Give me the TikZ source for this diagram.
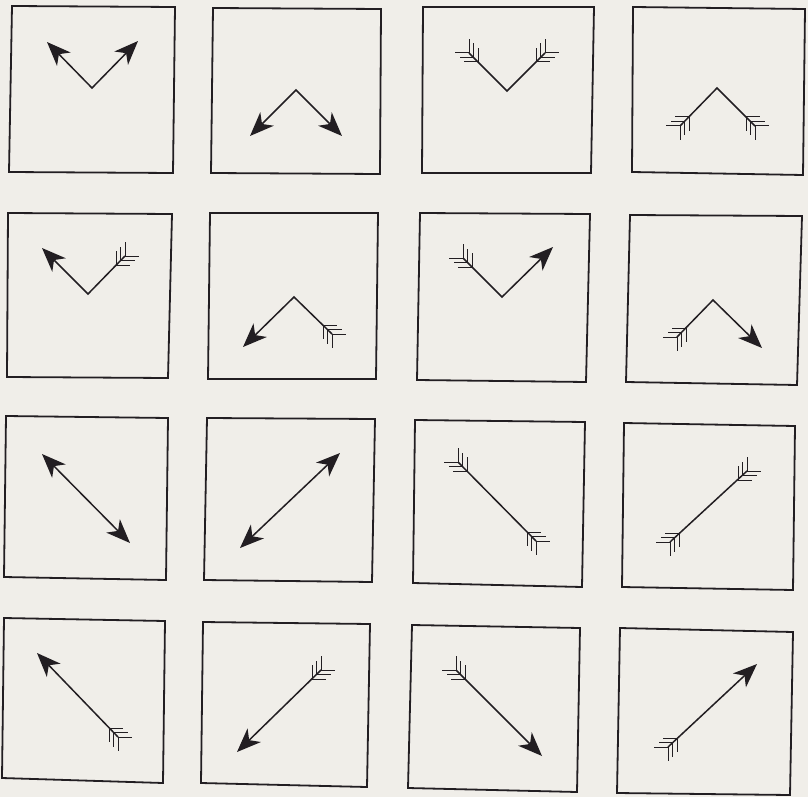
\documentclass[tikz,border=0pt]{standalone}
\usetikzlibrary{arrows.meta,calc}
\definecolor{paper}{RGB}{240,238,233}
\definecolor{ink}{RGB}{34,30,34}
\tikzset{
  panel/.style={draw=ink, line width=1.8pt, line join=miter},
  shaft/.style={draw=ink, line width=1.5pt, line join=miter},
  feather/.style={draw=ink, line width=1.0pt},
  >={Stealth[length=24pt,width=19pt,inset=7pt]},
}
% fletching at a tail end: coordinate name, outward x sign, outward y sign (screen)
\newcommand\fletching[3]{%
  \foreach \k in {0,1,2}{%
    \draw[feather] ($(#1)+({-\k*4.5*(#2)},{-\k*4.5*(#3)})$) -- ++({14*(#2)},0);
    \draw[feather] ($(#1)+({-\k*4.5*(#2)},{-\k*4.5*(#3)})$) -- ++(0,{14*(#3)});
  }}
\newcommand\panelbox[8]{\draw[panel] (#1,#2) -- (#3,#4) -- (#5,#6) -- (#7,#8) -- cycle;}
\begin{document}
\begin{tikzpicture}[x=1pt,y=-1pt]
\fill[paper] (0,0) rectangle (808,797);
\useasboundingbox (0,0) rectangle (808,797);
% boxes
\panelbox{12}{6}{175}{7}{173}{173}{9}{172}
\panelbox{213}{8}{381}{9}{380}{174}{211}{173}
\panelbox{423}{7}{594}{7}{591}{173}{422}{173}
\panelbox{633}{7}{805}{9}{803}{175}{632}{172}
\panelbox{8}{213}{172}{214}{168}{378}{7}{377}
\panelbox{210}{213}{378}{213}{376}{379}{208}{379}
\panelbox{420}{213}{590}{214}{586}{382}{417}{380}
\panelbox{630}{215}{802}{216}{797}{385}{626}{382}
\panelbox{6}{416}{168}{418}{166}{580}{4}{577}
\panelbox{207}{418}{375}{419}{372}{582}{204}{580}
\panelbox{415}{420}{585}{422}{582}{587}{413}{583}
\panelbox{624}{423}{795}{426}{793}{590}{622}{587}
\panelbox{4}{618}{165}{621}{163}{783}{2}{778}
\panelbox{203}{622}{370}{624}{367}{787}{201}{783}
\panelbox{412}{625}{580}{628}{577}{792}{408}{788}
\panelbox{620}{628}{793}{632}{790}{795}{617}{793}
% row 1
\coordinate (v11) at (92,88);  \coordinate (a11) at (47,42);  \coordinate (b11) at (138,41);
\draw[shaft,<->] (a11) -- (v11) -- (b11);
\coordinate (v12) at (296,90); \coordinate (a12) at (250,136); \coordinate (b12) at (342,136);
\draw[shaft,<->] (a12) -- (v12) -- (b12);
\coordinate (v13) at (507,91); \coordinate (a13) at (469,53); \coordinate (b13) at (545,53);
\draw[shaft] (a13) -- (v13) -- (b13);
\fletching{a13}{-1}{-1} \fletching{b13}{1}{-1}
\coordinate (v14) at (717,88); \coordinate (a14) at (680,126); \coordinate (b14) at (755,126);
\draw[shaft] (a14) -- (v14) -- (b14);
\fletching{a14}{-1}{1} \fletching{b14}{1}{1}
% row 2
\coordinate (v21) at (88,294); \coordinate (a21) at (42,248); \coordinate (b21) at (125,256);
\draw[shaft,<-] (a21) -- (v21) -- (b21);
\fletching{b21}{1}{-1}
\coordinate (v22) at (294,297); \coordinate (a22) at (243,347); \coordinate (b22) at (332,334);
\draw[shaft,<-] (a22) -- (v22) -- (b22);
\fletching{b22}{1}{1}
\coordinate (v23) at (502,297); \coordinate (a23) at (463,258); \coordinate (b23) at (553,247);
\draw[shaft,->] (a23) -- (v23) -- (b23);
\fletching{a23}{-1}{-1}
\coordinate (v24) at (713,300); \coordinate (a24) at (677,337); \coordinate (b24) at (762,348);
\draw[shaft,->] (a24) -- (v24) -- (b24);
\fletching{a24}{-1}{1}
% row 3
\coordinate (a31) at (42,454); \coordinate (b31) at (130,543);
\draw[shaft,<->] (a31) -- (b31);
\coordinate (a32) at (240,548); \coordinate (b32) at (340,453);
\draw[shaft,<->] (a32) -- (b32);
\coordinate (a33) at (458,462); \coordinate (b33) at (536,541);
\draw[shaft] (a33) -- (b33);
\fletching{a33}{-1}{-1} \fletching{b33}{1}{1}
\coordinate (a34) at (670,542); \coordinate (b34) at (747,471);
\draw[shaft] (a34) -- (b34);
\fletching{a34}{-1}{1} \fletching{b34}{1}{-1}
% row 4
\coordinate (a41) at (37,653); \coordinate (b41) at (118,737);
\draw[shaft,<-] (a41) -- (b41);
\fletching{b41}{1}{1}
\coordinate (a42) at (237,752); \coordinate (b42) at (321,670);
\draw[shaft,<-] (a42) -- (b42);
\fletching{b42}{1}{-1}
\coordinate (a43) at (456,670); \coordinate (b43) at (542,756);
\draw[shaft,->] (a43) -- (b43);
\fletching{a43}{-1}{-1}
\coordinate (a44) at (668,747); \coordinate (b44) at (757,664);
\draw[shaft,->] (a44) -- (b44);
\fletching{a44}{-1}{1}
\end{tikzpicture}
\end{document}
